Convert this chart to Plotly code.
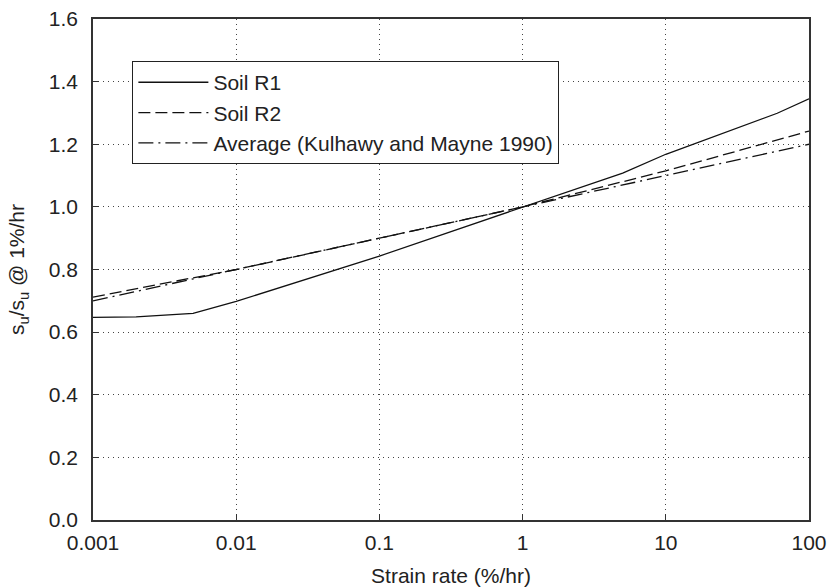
import plotly.graph_objects as go

# Data
rate_r1 = [0.001, 0.002, 0.005, 0.01, 0.1, 1, 5, 10, 60, 100]
su_r1 = [0.647, 0.649, 0.660, 0.698, 0.843, 1.0, 1.108, 1.168, 1.299, 1.345]

rate_r2 = [0.001, 0.01, 0.1, 1, 10, 100]
su_r2 = [0.712, 0.800, 0.900, 1.0, 1.115, 1.242]

rate_avg = [0.001, 100]
su_avg = [0.700, 1.200]

x_tickvals = [0.001, 0.01, 0.1, 1, 10, 100]
x_ticktext = ["0.001", "0.01", "0.1", "1", "10", "100"]
y_tickvals = [0.0, 0.2, 0.4, 0.6, 0.8, 1.0, 1.2, 1.4, 1.6]

FONT = "Liberation Sans, Arial, sans-serif"
TXT = "#222222"
FS = 21

fig = go.Figure()
fig.add_trace(go.Scatter(x=rate_r1, y=su_r1, mode="lines", name="Soil R1",
                         line=dict(color="#111111", width=1.3)))
fig.add_trace(go.Scatter(x=rate_r2, y=su_r2, mode="lines", name="Soil R2",
                         line=dict(color="#111111", width=1.3, dash="12px,5px")))
fig.add_trace(go.Scatter(x=rate_avg, y=su_avg, mode="lines",
                         name="Average (Kulhawy and Mayne 1990)",
                         line=dict(color="#111111", width=1.3, dash="15px,5px,2px,5px")))

axis_common = dict(
    showline=True, linecolor="#333333", linewidth=1.5, mirror=True,
    ticks="inside", ticklen=6, tickcolor="#333333", tickwidth=1,
    showgrid=True, gridcolor="#444444", gridwidth=1, griddash="1px,4px",
    zeroline=False, automargin=False,
    tickfont=dict(family=FONT, size=FS, color=TXT),
)

fig.update_xaxes(type="log", range=[-3, 2], tickvals=x_tickvals, ticktext=x_ticktext,
                 ticklabelstandoff=3,
                 title=dict(text="Strain rate (%/hr)", font=dict(family=FONT, size=FS, color=TXT),
                            standoff=16),
                 **axis_common)
fig.update_yaxes(range=[0, 1.6], tickvals=y_tickvals, tickformat=".1f",
                 ticklabelstandoff=9,
                 title=dict(text="s<sub>u</sub>/s<sub>u</sub> @ 1%/hr",
                            font=dict(family=FONT, size=FS, color=TXT), standoff=18),
                 **axis_common)

fig.update_layout(
    width=828, height=587,
    margin=dict(l=93, r=19, t=19, b=67),
    paper_bgcolor="white", plot_bgcolor="white",
    font=dict(family=FONT, size=FS, color=TXT),
    showlegend=True,
    legend=dict(x=0.055, y=0.916, xanchor="left", yanchor="top",
                bgcolor="white", bordercolor="#222222", borderwidth=1,
                font=dict(family=FONT, size=FS, color=TXT),
                itemwidth=70, tracegroupgap=0),
)

fig.write_html("out.html")
